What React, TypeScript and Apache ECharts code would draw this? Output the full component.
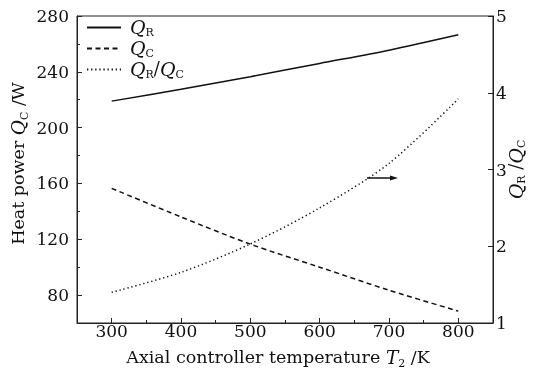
import React, { useEffect, useRef } from "react";
import * as echarts from "echarts";

const temps = [300, 400, 500, 600, 700, 800];
const qR = [219, 227.5, 236.5, 246, 255.5, 266.5];
const qC = [156.5, 136, 116.5, 100, 83.5, 68.5];
const ratio = [1.4, 1.66, 2.03, 2.5, 3.08, 3.92];

const xMajor = [300, 400, 500, 600, 700, 800];
const xMinor = [350, 450, 550, 650, 750];
const yMajor = [80, 120, 160, 200, 240, 280];
const yMinor = [100, 140, 180, 220, 260];
const rTicks = [1, 2, 3, 4, 5];

const FONT = "DejaVu Serif";
const INK = "#111";

const mkRich = (size: number) => ({
  t: { fontFamily: FONT, fontSize: size, color: INK, lineHeight: size + 3, verticalAlign: "top" },
  q: { fontFamily: FONT, fontSize: size + 1, fontStyle: "italic", color: INK, lineHeight: size + 3, verticalAlign: "top" },
  s: { fontFamily: FONT, fontSize: Math.round(size * 0.6), color: INK, lineHeight: Math.round(size * 0.6), padding: [Math.round(size * 0.55), 0, 0, 0], verticalAlign: "top" },
});

const pts = (ys: number[]) => temps.map((t, i) => [t, ys[i]]);

export default function App() {
  const ref = useRef<HTMLDivElement>(null);
  useEffect(() => {
    if (!ref.current) return;
    const chart = echarts.init(ref.current, undefined, { renderer: "svg" });
    const axisLabel = { fontFamily: FONT, fontSize: 17, color: INK };
    const option: any = {
      animation: false,
      grid: {
        left: 77, right: 42, top: 16, bottom: 47,
        show: true, borderColor: "#222", borderWidth: 1,
        containLabel: false, outerBoundsMode: "none",
      },
      legend: {
        orient: "vertical",
        left: 86,
        top: 17,
        padding: 0,
        itemWidth: 34,
        itemHeight: 14,
        itemGap: 0,
        itemStyle: { opacity: 0 },
        data: ["QR", "QC", "ratio"],
        formatter: (n: string) =>
          n === "QR" ? "{q|Q}{s|R}" : n === "QC" ? "{q|Q}{s|C}" : "{q|Q}{s|R}{t|/}{q|Q}{s|C}",
        textStyle: { color: INK, rich: mkRich(18), padding: [0, 0, 0, 4] },
      },
      xAxis: [
        {
          type: "value",
          min: 250,
          max: 850,
          axisLine: { lineStyle: { color: "#222" } },
          axisTick: { inside: true, length: 5, customValues: xMajor, lineStyle: { color: "#222" } },
          axisLabel: { ...axisLabel, customValues: xMajor, margin: 1, lineHeight: 14 },
          splitLine: { show: false },
          name: "{t|Axial controller temperature }{q|T}{s|2}{t| /K}",
          nameLocation: "middle",
          nameGap: 25,
          nameMoveOverlap: false,
          nameTextStyle: { rich: mkRich(17.5), padding: [0, 14, 0, 0] },
        },
        {
          type: "value",
          min: 250,
          max: 850,
          position: "bottom",
          axisLine: { show: false },
          axisTick: { inside: true, length: 3, customValues: xMinor, lineStyle: { color: "#222" } },
          axisLabel: { show: false },
          splitLine: { show: false },
        },
      ],
      yAxis: [
        {
          type: "value",
          min: 60,
          max: 280,
          position: "left",
          axisLine: { show: true, lineStyle: { color: "#222" } },
          axisTick: { show: true, inside: true, length: 5, customValues: yMajor, lineStyle: { color: "#222" } },
          axisLabel: { ...axisLabel, customValues: yMajor, margin: 8 },
          splitLine: { show: false },
          name: "{t|Heat power }{q|Q}{s|C}{t| /W}",
          nameLocation: "middle",
          nameRotate: 90,
          nameGap: 48,
          nameMoveOverlap: false,
          nameTextStyle: { rich: mkRich(17.5), padding: [0, 0, 0, 12] },
        },
        {
          type: "value",
          min: 60,
          max: 280,
          position: "left",
          axisLine: { show: false },
          axisTick: { show: true, inside: true, length: 3, customValues: yMinor, lineStyle: { color: "#222" } },
          axisLabel: { show: false },
          splitLine: { show: false },
        },
        {
          type: "value",
          min: 1,
          max: 5,
          interval: 1,
          position: "right",
          axisLine: { show: true, lineStyle: { color: "#222" } },
          axisTick: { show: true, inside: true, length: 5, customValues: rTicks, lineStyle: { color: "#222" } },
          axisLabel: { ...axisLabel, margin: 3 },
          splitLine: { show: false },
          name: "{q|Q}{s|R}{t| /}{q|Q}{s|C}",
          nameLocation: "middle",
          nameRotate: 90,
          nameGap: 13,
          nameMoveOverlap: false,
          nameTextStyle: { rich: mkRich(18) },
        },
      ],
      series: [
        {
          name: "QR",
          type: "line",
          xAxisIndex: 0,
          yAxisIndex: 0,
          data: pts(qR),
          smooth: 0.3,
          symbol: "none",
          lineStyle: { color: INK, width: 1.5, type: "solid" },
          itemStyle: { color: INK },
        },
        {
          name: "QC",
          type: "line",
          xAxisIndex: 0,
          yAxisIndex: 0,
          data: pts(qC),
          smooth: 0.3,
          symbol: "none",
          lineStyle: { color: INK, width: 1.5, type: [5, 3.5] },
          itemStyle: { color: INK },
        },
        {
          name: "ratio",
          type: "line",
          xAxisIndex: 0,
          yAxisIndex: 2,
          data: pts(ratio),
          smooth: 0.3,
          symbol: "none",
          lineStyle: { color: INK, width: 1.5, type: [1.3, 2.8] },
          itemStyle: { color: INK },
        },
      ],
      graphic: [
        {
          type: "line",
          shape: { x1: 367, y1: 178, x2: 392, y2: 178 },
          style: { stroke: INK, lineWidth: 1.5 },
        },
        {
          type: "polygon",
          shape: { points: [[390, 175.5], [398, 178], [390, 180.5]] },
          style: { fill: INK },
        },
      ],
    };
    chart.setOption(option);
    return () => chart.dispose();
  }, []);
  return <div ref={ref} style={{ position: "fixed", left: 0, top: 0, width: 535, height: 370 }} />;
}
